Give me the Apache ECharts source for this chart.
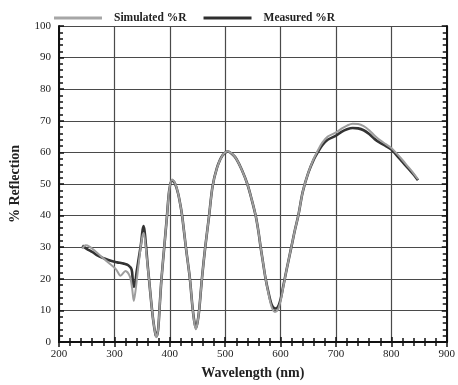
<!DOCTYPE html>
<html>
<head>
<meta charset="utf-8">
<script src="https://cdn.jsdelivr.net/npm/echarts@6/dist/echarts.min.js"></script>
<style>
  html, body { margin: 0; padding: 0; background: #fff; }
  #chart { width: 458px; height: 385px; }
</style>
</head>
<body>
<div id="chart"></div>
<script>
// values: [wavelength nm, % reflection]
const simulated = [
  [242, 29.5], [248, 30.6], [255, 30.2], [265, 28.8], [280, 26.5], [290, 25], [303, 23],
  [311, 21], [320, 22.5], [328, 20.7], [332, 17], [335, 13], [338, 16], [342, 22],
  [346, 28], [350, 33], [353, 34.5], [356, 31], [360, 24], [363, 19], [366, 13.5],
  [370, 7], [374, 2.5], [376, 1.5], [379, 4], [382, 12], [385, 20], [390, 30],
  [395, 40], [399, 48], [404, 51.4], [409, 50.5], [415, 47], [420, 42.5], [423, 39],
  [429, 30], [436, 20.5], [441, 11], [444, 6.5], [447, 4], [450, 6], [453, 10],
  [458, 20], [464, 30], [471, 40], [477, 49], [485, 55], [495, 59], [505, 60.4],
  [513, 59.5], [520, 58], [530, 54.5], [540, 50], [548, 45], [555, 40], [560, 35],
  [564, 30], [568, 25.5], [573, 20], [578, 15.5], [584, 11], [590, 9.5], [595, 10.2],
  [600, 13], [605, 17.5], [611, 23], [620, 30.5], [626, 35.5], [632, 40], [640, 47.5],
  [650, 53.5], [660, 58], [667, 60.5], [675, 63], [685, 65], [700, 66.3], [710, 67.5],
  [720, 68.5], [730, 69.1], [740, 69], [750, 68.3], [760, 67], [770, 65.3], [780, 63.8],
  [790, 62.6], [800, 61.4], [810, 59.6], [820, 57.6], [830, 55.5], [840, 53.4], [848, 51.5]
];

const measured = [
  [242, 30.5], [250, 29.5], [260, 28.5], [270, 27.3], [282, 26.4], [295, 25.6],
  [305, 25.2], [317, 24.8], [325, 24.3], [331, 23], [333, 20], [335, 17.5], [337, 18],
  [340, 22], [344, 26.5], [348, 31], [351, 35.5], [353, 36.7], [356, 32.5], [360, 24.5],
  [363, 19], [366, 13.5], [370, 7], [374, 2.5], [376, 1.8], [379, 4], [382, 12],
  [385, 20], [390, 30], [395, 40], [399, 48], [404, 51.2], [409, 50.3], [415, 47],
  [420, 42.5], [423, 39], [429, 30], [436, 20.5], [441, 11], [444, 6.8], [447, 4.5],
  [450, 6.2], [453, 10], [458, 20], [464, 30], [471, 40], [477, 49], [485, 55],
  [495, 59], [505, 60.3], [513, 59.4], [520, 58], [530, 54.5], [540, 50], [548, 45],
  [555, 40], [560, 35], [564, 30], [568, 25.5], [573, 20], [578, 15.8], [584, 11.8],
  [590, 10.6], [595, 11], [600, 13.5], [605, 17.8], [611, 23], [620, 30.5], [626, 35.5],
  [632, 40], [640, 47.5], [650, 53.5], [660, 57.8], [667, 60], [675, 62.2], [685, 64],
  [700, 65.3], [710, 66.5], [720, 67.3], [730, 67.7], [740, 67.6], [750, 67], [760, 65.8],
  [770, 64.2], [780, 63], [790, 62], [800, 60.9], [810, 59], [820, 57], [830, 55],
  [840, 53], [848, 51.2]
];

const seriesNames = ["Simulated %R", "Measured %R"];
const xRange = [200, 900];
const yRange = [0, 100];

const serif = "'Liberation Serif', 'DejaVu Serif', serif";
const frame = { show: true, lineStyle: { color: "#111", width: 2 } };
const ticks = { show: true, inside: true, length: 5, lineStyle: { color: "#111", width: 1.5 } };
const minor = { show: true, splitNumber: 5, length: 4, lineStyle: { color: "#111", width: 1.5 } };

function mirrorAxis(base, extra) {
  return Object.assign({
    axisLine: frame,
    axisTick: ticks,
    minorTick: minor,
    axisLabel: { show: false },
    splitLine: { show: false },
  }, base, extra);
}

const chart = echarts.init(document.getElementById("chart"), null, { renderer: "canvas" });

chart.setOption({
  backgroundColor: "#fff",
  animation: false,
  legend: {
    data: [
      { name: seriesNames[0], icon: "rect", itemStyle: { color: "#a6a6a6" } },
      { name: seriesNames[1], icon: "rect", itemStyle: { color: "#2e2e2e" } },
    ],
    left: 49,
    top: 7,
    itemWidth: 48,
    itemHeight: 3,
    itemGap: 17,
    textStyle: { fontFamily: serif, fontWeight: "bold", fontSize: 11.5, color: "#222", padding: [0, 0, 0, 7] },
  },
  grid: { left: 55, right: 5, top: 26, bottom: 42 },
  xAxis: [
    {
      type: "value",
      min: xRange[0],
      max: xRange[1],
      interval: 100,
      name: "Wavelength (nm)",
      nameLocation: "middle",
      nameGap: 24,
      nameTextStyle: { fontFamily: serif, fontWeight: "bold", fontSize: 14, color: "#222" },
      axisLine: frame,
      axisTick: ticks,
      minorTick: minor,
      axisLabel: { fontFamily: serif, fontSize: 11, color: "#222", margin: 7 },
      splitLine: { show: true, lineStyle: { color: "#4a4a4a", width: 1.2 } },
    },
    mirrorAxis({ type: "value", min: xRange[0], max: xRange[1], interval: 100 }, { position: "top" }),
  ],
  yAxis: [
    {
      type: "value",
      min: yRange[0],
      max: yRange[1],
      interval: 10,
      name: "% Reflection",
      nameLocation: "middle",
      nameGap: 37,
      nameTextStyle: { fontFamily: serif, fontWeight: "bold", fontSize: 14, color: "#222", padding: [0, 0, 0, 0] },
      axisLine: frame,
      axisTick: ticks,
      minorTick: minor,
      axisLabel: { fontFamily: serif, fontSize: 11, color: "#222", margin: 8 },
      splitLine: { show: true, lineStyle: { color: "#4a4a4a", width: 1.2 } },
    },
    mirrorAxis({ type: "value", min: yRange[0], max: yRange[1], interval: 10 }, { position: "right" }),
  ],
  series: [
    {
      name: seriesNames[1],
      type: "line",
      data: measured,
      showSymbol: false,
      symbol: "none",
      smooth: 0.3,
      z: 2,
      lineStyle: { color: "#333", width: 2.6 },
      itemStyle: { color: "#2e2e2e" },
    },
    {
      name: seriesNames[0],
      type: "line",
      data: simulated,
      showSymbol: false,
      symbol: "none",
      smooth: 0.3,
      z: 3,
      lineStyle: { color: "#9d9d9d", width: 2 },
      itemStyle: { color: "#a6a6a6" },
    },
  ],
});
</script>
</body>
</html>
